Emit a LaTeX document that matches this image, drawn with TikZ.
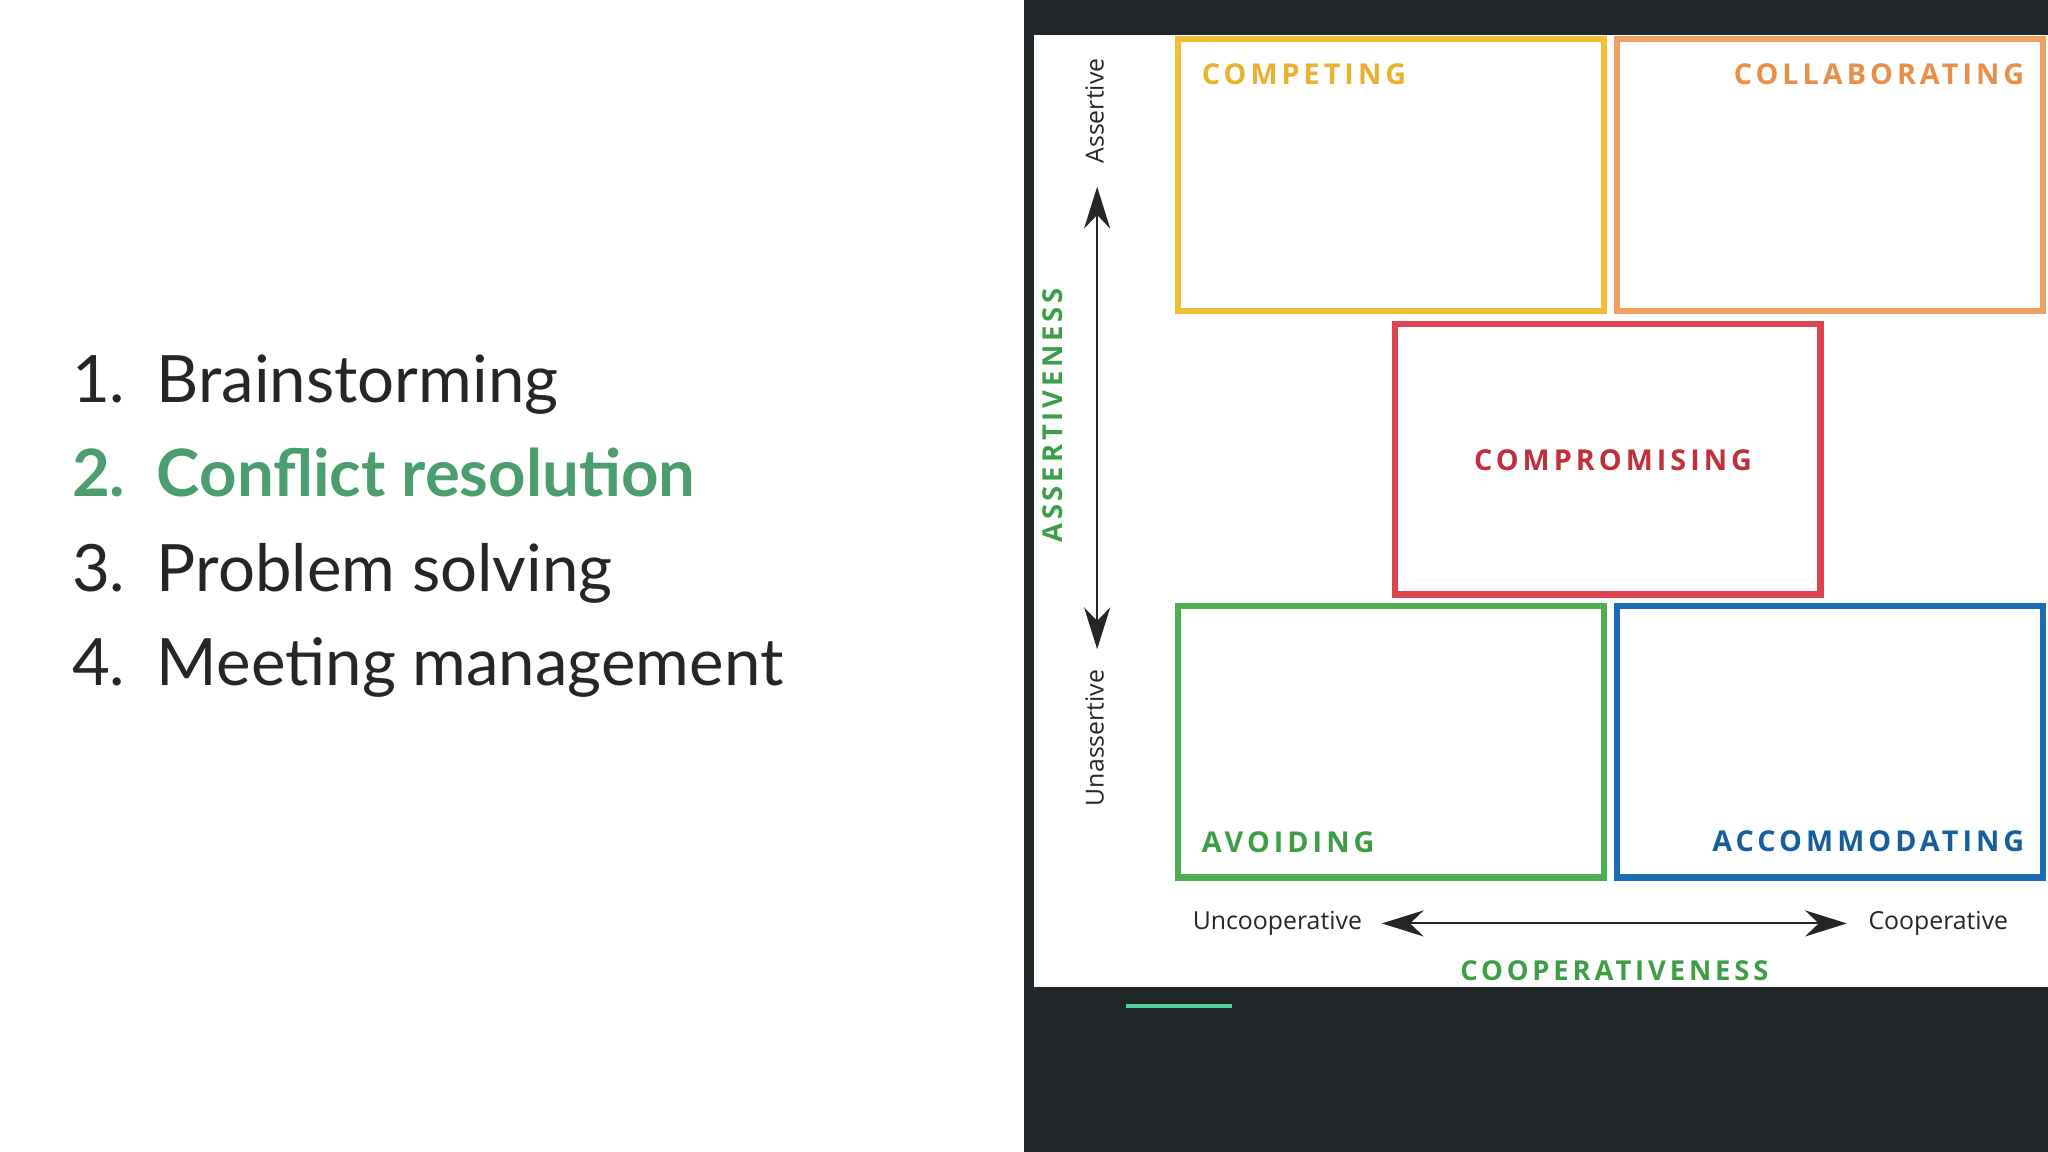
\documentclass[tikz,border=0pt]{standalone}
\usepackage{fontspec}
\setmainfont{Lato}
\newfontfamily\boxfont[LetterSpace=14]{Open Sans}
\newfontfamily\smallfont{Open Sans}
\usetikzlibrary{arrows.meta}
\definecolor{panel}{HTML}{212628}
\definecolor{listgreen}{HTML}{4A9E70}
\definecolor{cyel}{HTML}{F3BD38}
\definecolor{cora}{HTML}{F0A060}
\definecolor{cred}{HTML}{DD4450}
\definecolor{cgrn}{HTML}{4CAF50}
\definecolor{cblu}{HTML}{1A6DB5}
\definecolor{tred}{HTML}{C0303A}
\definecolor{tgrn}{HTML}{3E9E48}
\definecolor{tblu}{HTML}{175E9E}
\definecolor{tora}{HTML}{E8904A}
\definecolor{tyel}{HTML}{EAB030}
\definecolor{mint}{HTML}{4FD1A0}
\begin{document}
\begin{tikzpicture}[x=1pt,y=-1pt,
  listitem/.style={anchor=base west,inner sep=0,font=\fontsize{50}{60}\selectfont,text=black!85},
  quad/.style={draw,line width=5pt},
  qlabel/.style={inner sep=0,font=\boxfont\bfseries\fontsize{22}{26}\selectfont},
  axlabel/.style={inner sep=0,font=\smallfont\fontsize{19}{22}\selectfont,text=black!85},
  axtitle/.style={inner sep=0,font=\boxfont\bfseries\fontsize{21}{26}\selectfont,text=tgrn},
  twoarrow/.style={line width=1.5pt,{Stealth[length=32pt,width=20pt]}-{Stealth[length=32pt,width=20pt]}}]
\useasboundingbox (0,0) rectangle (1568,882);
\fill[white] (0,0) rectangle (1568,882);
\fill[panel] (784,0) rectangle (1568,882);
\fill[white] (792,27) rectangle (1568,756);
\draw[mint,line width=3pt] (862,770) -- (943,770);
% list
\node[listitem] (n1) at (55,308) {1.};
\node[listitem] (t1) at (120,308) {Brainstorming};
\node[listitem,text=listgreen,font=\bfseries\fontsize{50}{60}\selectfont] (n2) at (55,380) {2.};
\node[listitem,text=listgreen,font=\bfseries\fontsize{50}{60}\selectfont] (t2) at (120,380) {Conflict resolution};
\node[listitem] (n3) at (55,453) {3.};
\node[listitem] (t3) at (120,453) {Problem solving};
\node[listitem] (n4) at (55,525) {4.};
\node[listitem] (t4) at (120,525) {Meeting management};
% quadrants
\draw[quad,cyel] (902,30) rectangle (1228,238);
\draw[quad,cora] (1238,30) rectangle (1564,238);
\draw[quad,cred] (1068,248) rectangle (1394,455);
\draw[quad,cgrn] (902,464) rectangle (1228,672);
\draw[quad,cblu] (1238,464) rectangle (1564,672);
\node[qlabel,anchor=west,text=tyel] (lcomp) at (920,57) {COMPETING};
\node[qlabel,anchor=east,text=tora] (lcoll) at (1550,57) {COLLABORATING};
\node[qlabel,text=tred] (lcpr) at (1235,352) {COMPROMISING};
\node[qlabel,anchor=west,text=tgrn] (lavo) at (920,645) {AVOIDING};
\node[qlabel,anchor=east,text=tblu] (lacc) at (1550,644) {ACCOMMODATING};
% axes
\node[axlabel,rotate=90] (ass) at (838,85) {Assertive};
\node[axlabel,rotate=90] (unass) at (838,565) {Unassertive};
\node[axtitle,rotate=90] (asstitle) at (806,318) {ASSERTIVENESS};
\coordinate (vtop) at (840,143);
\coordinate (vbot) at (840,497);
\draw[twoarrow,black!85] (vtop) -- (vbot);
\node[axlabel] (uncoop) at (978,707) {Uncooperative};
\node[axlabel] (coop) at (1484,707) {Cooperative};
\node[axtitle] (cooptitle) at (1236,743) {COOPERATIVENESS};
\coordinate (hl) at (1058,707);
\coordinate (hr) at (1414,707);
\draw[twoarrow,black!85] (hl) -- (hr);
\end{tikzpicture}
\end{document}
